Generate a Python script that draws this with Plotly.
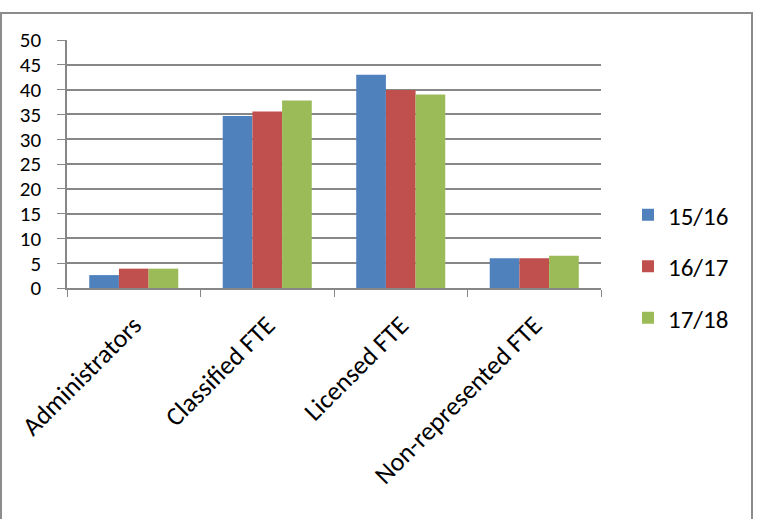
import plotly.graph_objects as go

categories = ["Administrators", "Classified FTE", "Licensed FTE", "Non-represented FTE"]
series_names = ["15/16", "16/17", "17/18"]
values_1516 = [2.6, 34.7, 43.0, 6.0]
values_1617 = [3.9, 35.6, 39.9, 6.0]
values_1718 = [3.9, 37.8, 39.0, 6.5]
colors = ["#4F81BD", "#C0504D", "#9BBB59"]
y_ticks = [0, 5, 10, 15, 20, 25, 30, 35, 40, 45, 50]

W, H = 758, 519
ml, mr, mt, mb = 67, 157, 40, 231
pw, ph = W - ml - mr, H - mt - mb

fig = go.Figure()
for i, (name, vals) in enumerate(zip(series_names, [values_1516, values_1617, values_1718])):
    fig.add_trace(go.Bar(x=categories, y=vals, name=name, marker_color=colors[i],
                         marker_line_width=0, legendgroup=name))

def px_x(p):
    return (p - ml) / pw

def px_y(p):
    return 1 - (p - mt) / ph

fig.add_shape(type="rect", xref="paper", yref="paper",
              x0=px_x(1), x1=px_x(752), y0=px_y(13), y1=px_y(540),
              line=dict(color="#8c8c8c", width=2), fillcolor="rgba(0,0,0,0)", layer="below")

font_family = "Carlito, Lato, 'Open Sans', sans-serif"
fig.update_layout(
    width=W, height=H,
    margin=dict(l=ml, r=mr, t=mt, b=mb, autoexpand=False),
    paper_bgcolor="white", plot_bgcolor="white",
    barmode="group", bargap=0.333, bargroupgap=0,
    font=dict(family=font_family, size=25, color="black"),
    showlegend=True,
    legend=dict(x=px_x(628), xanchor="left", y=px_y(192), yanchor="top",
                font=dict(size=25), traceorder="grouped", tracegroupgap=16,
                itemwidth=30, bgcolor="rgba(0,0,0,0)"),
    xaxis=dict(type="category", tickangle=-45, showgrid=False,
               showline=True, linecolor="#878787", linewidth=1.5,
               ticks="outside", tickson="boundaries", ticklen=7, tickcolor="#878787",
               ticklabelstandoff=10, tickfont=dict(size=26)),
    yaxis=dict(range=[0, 50], tickvals=y_ticks, showgrid=True, gridcolor="#878787", gridwidth=1.5,
               showline=True, linecolor="#878787", linewidth=1.5,
               ticks="outside", ticklen=8, tickcolor="#878787",
               ticklabelstandoff=12, tickfont=dict(size=21), zeroline=False),
)

fig.write_html("out.html", config={"displayModeBar": False},
               post_script="document.body.style.margin='0';")
